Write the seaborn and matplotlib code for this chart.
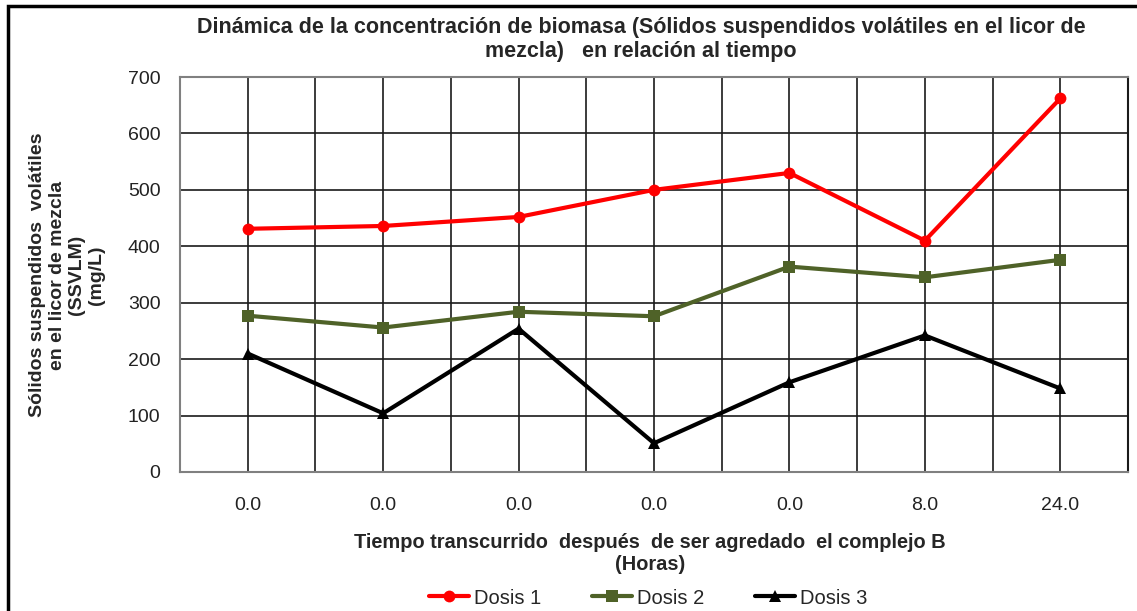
import matplotlib
matplotlib.use("Agg")
import matplotlib.pyplot as plt
import seaborn as sns
import pandas as pd
import numpy as np
from matplotlib.patches import Rectangle
from matplotlib.lines import Line2D

categories = ["0.0", "0.0", "0.0", "0.0", "0.0", "8.0", "24.0"]
dosis1 = [431, 436, 452, 500, 530, 410, 662]
dosis2 = [277, 256, 284, 276, 364, 345, 376]
dosis3 = [210, 104, 254, 51, 159, 242, 148]
series_names = ["Dosis 1", "Dosis 2", "Dosis 3"]
y_ticks = [0, 100, 200, 300, 400, 500, 600, 700]

rows = []
for name, vals in zip(series_names, [dosis1, dosis2, dosis3]):
    for i, v in enumerate(vals):
        rows.append({"idx": i, "val": v, "serie": name})
df = pd.DataFrame(rows)

sns.set_theme(style="white")
plt.rcParams["font.family"] = ["Liberation Sans", "DejaVu Sans"]

W, H = 1137, 611
fig = plt.figure(figsize=(W / 100, H / 100), dpi=100)
ax = fig.add_axes([180 / W, 1 - 472 / H, (1128 - 180) / W, (472 - 77) / H])

palette = {"Dosis 1": "#FF0000", "Dosis 2": "#4F6228", "Dosis 3": "#000000"}
markers = {"Dosis 1": "o", "Dosis 2": "s", "Dosis 3": "^"}
sns.lineplot(data=df, x="idx", y="val", hue="serie", style="serie",
             palette=palette, markers=markers, dashes=False, linewidth=3,
             markersize=8.5, markeredgewidth=0, ax=ax, legend=False, zorder=3)

ax.set_xlim(-0.5, len(categories) - 0.5)
ax.set_ylim(0, 700)
ax.set_yticks(y_ticks)
ax.set_yticklabels([str(t) for t in y_ticks], fontsize=14)
ax.set_xticks(range(len(categories)))
ax.set_xticklabels(categories, fontsize=14)
ax.tick_params(axis="both", length=0, colors="#222222")
ax.tick_params(axis="x", pad=18)
ax.tick_params(axis="y", pad=14)

# gridlines at both centers and boundaries
for xv in np.arange(-0.5, len(categories), 0.5):
    ax.axvline(xv, color="#1a1a1a", lw=1.2, zorder=1)
for yv in y_ticks[1:]:
    ax.axhline(yv, color="#1a1a1a", lw=1.2, zorder=1)
ax.grid(False)
for s in ["left", "bottom", "top"]:
    ax.spines[s].set_color("#808080")
    ax.spines[s].set_linewidth(1.5)
ax.spines["right"].set_color("#1a1a1a")
ax.spines["right"].set_linewidth(1.5)

ax.set_xlabel("")
ax.set_ylabel("")

fig.text(641 / W, 1 - 27 / H,
         "Dinámica de la concentración de biomasa (Sólidos suspendidos volátiles en el licor de",
         ha="center", va="center", fontsize=15.5, fontweight="bold")
fig.text(641 / W, 1 - 51 / H, "mezcla)   en relación al tiempo",
         ha="center", va="center", fontsize=15.5, fontweight="bold")

fig.text(650 / W, 1 - 543 / H,
         "Tiempo transcurrido  después  de ser agredado  el complejo B",
         ha="center", va="center", fontsize=14.4, fontweight="bold")
fig.text(650 / W, 1 - 564 / H, "(Horas)",
         ha="center", va="center", fontsize=14.4, fontweight="bold")

fig.text(67 / W, 1 - 275 / H,
         "Sólidos suspendidos  volátiles\nen el licor de mezcla\n(SSVLM)\n(mg/L)",
         ha="center", va="center", rotation=90, fontsize=14, fontweight="bold",
         linespacing=1.22)

# legend
handles = [Line2D([0], [0], color=palette[n], marker=markers[n], lw=3,
                  markersize=8.5, markeredgewidth=0) for n in series_names]
fig.legend(handles, series_names, loc="center", bbox_to_anchor=(648 / W, 1 - 598 / H),
           ncol=3, frameon=False, fontsize=14.5, handlelength=2.0, columnspacing=2.5,
           handletextpad=0.25)

fig.patches.append(Rectangle((8 / W, -0.05), 1.2, 1 - 6 / H + 0.05,
                             transform=fig.transFigure, fill=False,
                             edgecolor="black", lw=2.5))

fig.savefig("out.png", dpi=100)
